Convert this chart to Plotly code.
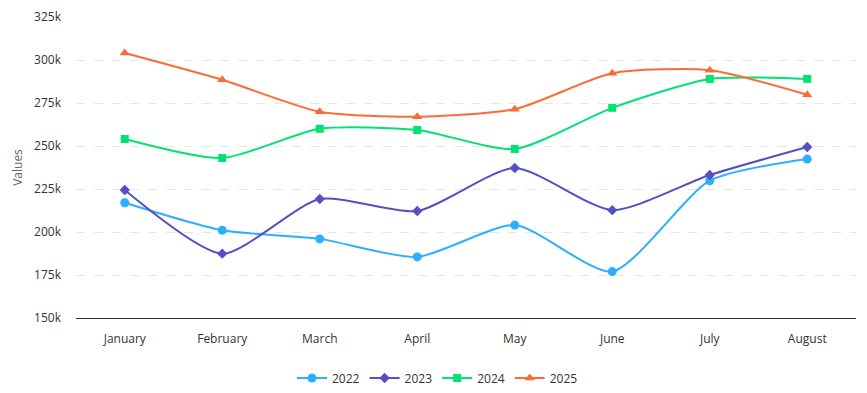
import plotly.graph_objects as go

months = ["January", "February", "March", "April", "May", "June", "July", "August"]
s2022 = [217000, 201000, 196000, 185500, 204000, 177000, 229800, 242400]
s2023 = [224400, 187400, 219200, 212200, 237200, 212700, 233100, 249400]
s2024 = [254100, 243000, 260000, 259300, 248300, 272200, 289000, 289000]
s2025 = [304100, 288500, 269900, 267000, 271400, 292300, 294100, 279800]
tick_vals = [150000, 175000, 200000, 225000, 250000, 275000, 300000, 325000]
tick_text = ["150k", "175k", "200k", "225k", "250k", "275k", "300k", "325k"]

series = [
    ("2022", s2022, "#2caffe", "circle", 9),
    ("2023", s2023, "#544fc5", "diamond", 8),
    ("2024", s2024, "#00e272", "square", 8),
    ("2025", s2025, "#fe6a35", "triangle-up", 9),
]

fig = go.Figure()
for name, vals, color, sym, size in series:
    fig.add_trace(go.Scatter(
        x=months, y=vals, name=name, mode="lines+markers",
        line=dict(color=color, width=2, shape="spline", smoothing=0.65),
        marker=dict(symbol=sym, size=size, color=color),
    ))

# page body has an 8px margin, so the figure is sized/offset to compensate
fig.update_layout(
    width=859, height=385,
    margin=dict(l=68, r=11, t=9, b=75, autoexpand=False),
    plot_bgcolor="white", paper_bgcolor="white",
    font=dict(family="Open Sans, sans-serif", size=12, color="#333333"),
    showlegend=True,
    legend=dict(orientation="h", x=0.5, xanchor="center", xref="container",
                y=15 / 385, yanchor="middle", yref="container",
                font=dict(size=12, color="#333333"), itemwidth=30),
    xaxis=dict(range=[-0.5, 7.5], showgrid=False, showline=True, linecolor="#333333",
               linewidth=1, ticks="", ticklabelstandoff=10,
               tickfont=dict(size=12, color="#333333"), fixedrange=True),
    yaxis=dict(range=[150000, 325000], tickvals=tick_vals, ticktext=tick_text,
               showgrid=True, gridcolor="#e6e6e6", griddash="dash", zeroline=False,
               ticklabelstandoff=14,
               title=dict(text="Values", font=dict(size=12, color="#666666"), standoff=8),
               tickfont=dict(size=12, color="#333333")),
)

fig.write_html("out.html")
